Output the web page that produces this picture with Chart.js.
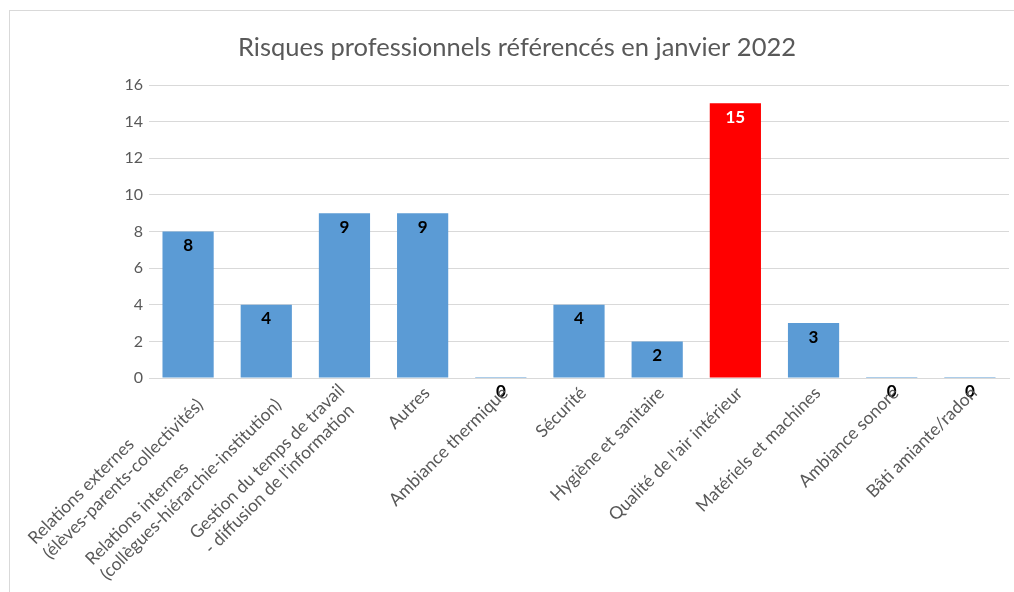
<!DOCTYPE html>
<html>
<head>
<meta charset="utf-8">
<script src="https://cdn.jsdelivr.net/npm/chart.js@4.4.1/dist/chart.umd.min.js"></script>
<style>
  html, body { margin: 0; padding: 0; background: #fff; overflow: hidden; }
  #wrap { position: relative; width: 1014px; height: 592px; }
  #frame { position: absolute; left: 9px; top: 10px; width: 1100px; height: 700px; border: 1px solid #d9d9d9; box-sizing: border-box; }
  canvas { position: absolute; left: 0; top: 0; }
</style>
</head>
<body>
<div id="wrap">
  <div id="frame"></div>
  <canvas id="c" width="1014" height="592"></canvas>
</div>
<script>
const chartTitle = 'Risques professionnels référencés en janvier 2022';
const categories = [
  ['Relations externes', '(élèves-parents-collectivités)'],
  ['Relations internes', '(collègues-hiérarchie-institution)'],
  ['Gestion du temps de travail', '- diffusion de l\'information'],
  ['Autres'],
  ['Ambiance thermique'],
  ['Sécurité'],
  ['Hygiène et sanitaire'],
  ['Qualité de l\'air intérieur'],
  ['Matériels et machines'],
  ['Ambiance sonore'],
  ['Bâti amiante/radon']
];
const values = [8, 4, 9, 9, 0, 4, 2, 15, 3, 0, 0];
const yTicks = [0, 2, 4, 6, 8, 10, 12, 14, 16];
const highlighted = [7];

const BLUE = '#5b9bd5';
const RED = '#ff0000';
const GREY_TEXT = '#595959';
const GRID = '#d9d9d9';
const FONT = 'Lato, "Open Sans", sans-serif';

const titlePlugin = {
  id: 'titleText',
  afterDraw(chart) {
    const ctx = chart.ctx;
    ctx.save();
    ctx.font = '25.5px ' + FONT;
    ctx.fillStyle = GREY_TEXT;
    ctx.textAlign = 'center';
    ctx.textBaseline = 'middle';
    ctx.fillText(chartTitle, 517, 48);
    ctx.restore();
  }
};

const xLabelPlugin = {
  id: 'xLabels',
  afterDraw(chart) {
    const ctx = chart.ctx;
    const xs = chart.scales.x;
    const base = chart.chartArea.bottom;
    const lh = 21;
    ctx.save();
    ctx.font = '17.5px ' + FONT;
    ctx.fillStyle = GREY_TEXT;
    ctx.textAlign = 'left';
    ctx.textBaseline = 'top';
    categories.forEach((lines, i) => {
      const n = lines.length;
      const x = xs.getPixelForTick(i);
      const cx = x - 2 - 7 * (n - 1);
      const cy = base + 6 - 3 * (n - 1);
      const maxW = Math.max(...lines.map(l => ctx.measureText(l).width));
      ctx.save();
      ctx.translate(cx, cy);
      ctx.rotate(-Math.PI / 4);
      lines.forEach((l, j) => ctx.fillText(l, -maxW, j * lh));
      ctx.restore();
    });
    ctx.restore();
  }
};

const valueLabelPlugin = {
  id: 'valueLabels',
  afterDatasetsDraw(chart) {
    const ctx = chart.ctx;
    const ys = chart.scales.y;
    const meta = chart.getDatasetMeta(0);
    ctx.save();
    ctx.font = 'bold 17px ' + FONT;
    ctx.textAlign = 'center';
    ctx.textBaseline = 'middle';
    meta.data.forEach((bar, i) => {
      const v = values[i];
      ctx.fillStyle = highlighted.includes(i) ? '#ffffff' : '#000000';
      ctx.fillText(String(v), bar.x, ys.getPixelForValue(v) + 14);
    });
    ctx.restore();
  }
};

new Chart(document.getElementById('c'), {
  type: 'bar',
  data: {
    labels: categories,
    datasets: [{
      data: values,
      backgroundColor: values.map((v, i) => highlighted.includes(i) ? RED : BLUE),
      borderWidth: 0,
      barPercentage: 0.655,
      categoryPercentage: 1.0,
      minBarLength: 1
    }]
  },
  options: {
    responsive: false,
    animation: false,
    devicePixelRatio: 1,
    layout: { padding: { top: 85, left: 0, right: 5, bottom: 0 } },
    plugins: {
      legend: { display: false },
      title: { display: false },
      tooltip: { enabled: false }
    },
    scales: {
      x: {
        grid: { display: false, drawTicks: false },
        border: { display: true, color: GRID, width: 1 },
        ticks: { display: false },
        afterFit(scale) { scale.height = 214; }
      },
      y: {
        min: 0,
        max: 16,
        afterBuildTicks(scale) { scale.ticks = yTicks.map(v => ({ value: v })); },
        grid: { color: GRID, lineWidth: 1, drawTicks: false },
        border: { display: false },
        ticks: {
          padding: 6,
          color: GREY_TEXT,
          font: { family: FONT, size: 16 }
        },
        afterFit(scale) { scale.width = 149; }
      }
    }
  },
  plugins: [titlePlugin, xLabelPlugin, valueLabelPlugin]
});
</script>
</body>
</html>
